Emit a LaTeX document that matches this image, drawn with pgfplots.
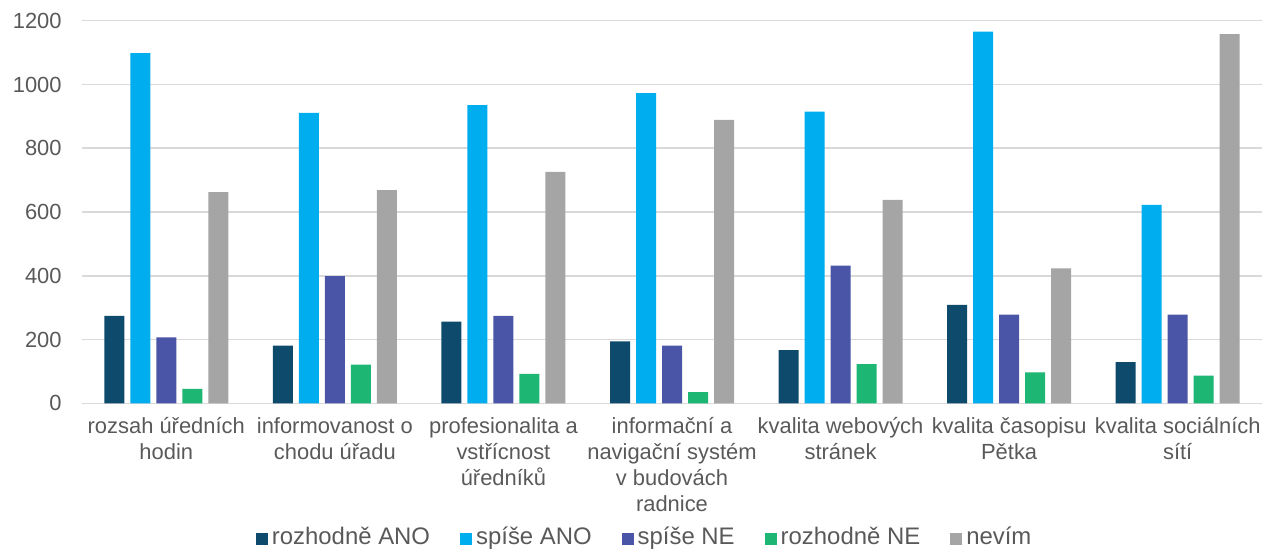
\documentclass[border=0pt]{standalone}
\usepackage{fontspec}
\setmainfont{Liberation Sans}
\usepackage{pgfplots}
\pgfplotsset{compat=1.18}

\definecolor{cANOr}{HTML}{0D4A6B}
\definecolor{cANOs}{HTML}{00AEEF}
\definecolor{cNEs}{HTML}{4A55A8}
\definecolor{cNEr}{HTML}{1DB673}
\definecolor{cNev}{HTML}{A5A5A5}
\definecolor{txt}{HTML}{595959}
\definecolor{grd}{HTML}{D9D9D9}

\begin{document}
\begin{tikzpicture}
\begin{axis}[
    at={(0,0)}, anchor=south west,
    width=590bp, height=191.3bp, scale only axis,
    ybar=3bp, bar width=10bp,
    xmin=-0.5, xmax=6.5,
    ymin=0, ymax=1200,
    ytick={0,200,...,1200},
    xtick={0,...,6},
    xticklabels={
        {rozsah úředních\\hodin},
        {informovanost o\\chodu úřadu},
        {profesionalita a\\vstřícnost\\úředníků},
        {informační a\\navigační systém\\v budovách\\radnice},
        {kvalita webových\\stránek},
        {kvalita časopisu\\Pětka},
        {kvalita sociálních\\sítí}},
    axis line style={draw=none},
    major tick length=0pt,
    ymajorgrids=true,
    grid style={grd, line width=0.8bp},
    /pgf/number format/assume math mode=true,
    /pgf/number format/1000 sep={},
    yticklabel style={font=\fontsize{11}{13}\selectfont, text=txt, inner sep=0pt, anchor=east, xshift=-10bp},
    xticklabel style={font=\fontsize{11}{13}\selectfont, text=txt, align=center, inner sep=0pt, anchor=north, yshift=-7bp},
    legend style={at={(axis description cs:0.476,-0.349)}, anchor=center,
        draw=none, fill=none, legend columns=-1,
        font=\fontsize{12}{13}\selectfont, text=txt,
        nodes={inner sep=0pt},
        /tikz/every odd column/.append style={column sep=2bp},
        /tikz/every even column/.append style={column sep=15bp}},
    legend image code/.code={\fill[#1] (0bp,-4bp) rectangle (6bp,2bp);},
]
\addplot[fill=cANOr, draw=none] coordinates {(0,274) (1,181) (2,256) (3,194) (4,167) (5,309) (6,129)};
\addplot[fill=cANOs, draw=none] coordinates {(0,1098) (1,911) (2,935) (3,973) (4,915) (5,1166) (6,622)};
\addplot[fill=cNEs, draw=none] coordinates {(0,207) (1,399) (2,274) (3,181) (4,432) (5,278) (6,278)};
\addplot[fill=cNEr, draw=none] coordinates {(0,45) (1,121) (2,92) (3,35) (4,123) (5,97) (6,87)};
\addplot[fill=cNev, draw=none] coordinates {(0,662) (1,669) (2,726) (3,889) (4,638) (5,423) (6,1158)};
\legend{rozhodně ANO, spíše ANO, spíše NE, rozhodně NE, nevím}
\end{axis}
\pgfresetboundingbox
\useasboundingbox (-41bp,-72.85bp) rectangle (592bp,201.65bp);
\end{tikzpicture}
\end{document}
